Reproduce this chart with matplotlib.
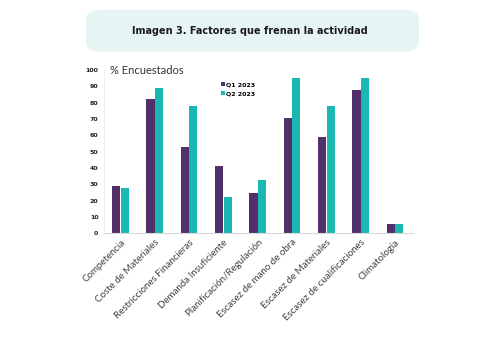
import matplotlib
matplotlib.use("Agg")
import matplotlib.pyplot as plt
from matplotlib.patches import FancyBboxPatch
import numpy as np

categories = ["Competencia", "Coste de Materiales", "Restricciones Financieras",
              "Demanda Insuficiente", "Planificación/Regulación",
              "Escasez de mano de obra", "Escasez de Materiales",
              "Escasez de cualificaciones", "Climatología"]
q1_2023 = [29, 82.5, 53, 41, 25, 70.5, 59, 87.5, 6]
q2_2023 = [28, 89, 78, 22.5, 33, 95, 78, 95, 5.5]
series_names = ["Q1 2023", "Q2 2023"]
yticks = list(range(0, 101, 10))

purple = "#52306b"
teal = "#1bb7b3"

fig = plt.figure(figsize=(5, 3.5), dpi=100)

# Title banner
banner = FancyBboxPatch((0.172, 0.852), 0.666, 0.12,
                        boxstyle="round,pad=0,rounding_size=0.03",
                        transform=fig.transFigure, facecolor="#e6f4f4",
                        edgecolor="none", zorder=0)
fig.patches.append(banner)
fig.text(0.5, 0.912, "Imagen 3. Factores que frenan la actividad",
         ha="center", va="center", fontsize=7, fontweight="bold",
         family="DejaVu Sans", color="#1a1a1a")

ax = fig.add_axes([0.208, 0.333, 0.618, 0.467])
x = np.arange(len(categories))
w = 0.235
ax.bar(x - 0.125, q1_2023, width=w, color=purple, label=series_names[0], zorder=2)
ax.bar(x + 0.125, q2_2023, width=w, color=teal, label=series_names[1], zorder=2)

ax.set_xlim(-0.48, 8.52)
ax.set_ylim(0, 100)
ax.set_yticks(yticks)
ax.set_yticklabels([str(t) for t in yticks], fontsize=4.5, fontweight="bold",
                   color="#222222")
ax.set_xticks(x)
ax.set_xticklabels(categories, rotation=45, ha="right", rotation_mode="anchor",
                   fontsize=7, color="#404040", family="Lato")
ax.tick_params(axis="both", length=0, pad=4)
ax.tick_params(axis="x", pad=3)

for side in ["top", "right"]:
    ax.spines[side].set_visible(False)
ax.spines["left"].set_color("#eeeeee")
ax.spines["left"].set_linewidth(0.6)
ax.spines["bottom"].set_color("#d9d9d9")
ax.spines["bottom"].set_linewidth(0.8)

ax.text(0.02, 1.0, "% Encuestados", transform=ax.transAxes, ha="left",
        va="center", fontsize=8, color="#333333", family="Lato")

leg = ax.legend(loc="upper left", bbox_to_anchor=(0.36, 0.96), frameon=False,
                prop={"size": 4.5, "weight": "bold"}, handlelength=0.6,
                handleheight=0.6, handletextpad=0.3, labelspacing=0.6)

fig.savefig("out.png", dpi=100)
